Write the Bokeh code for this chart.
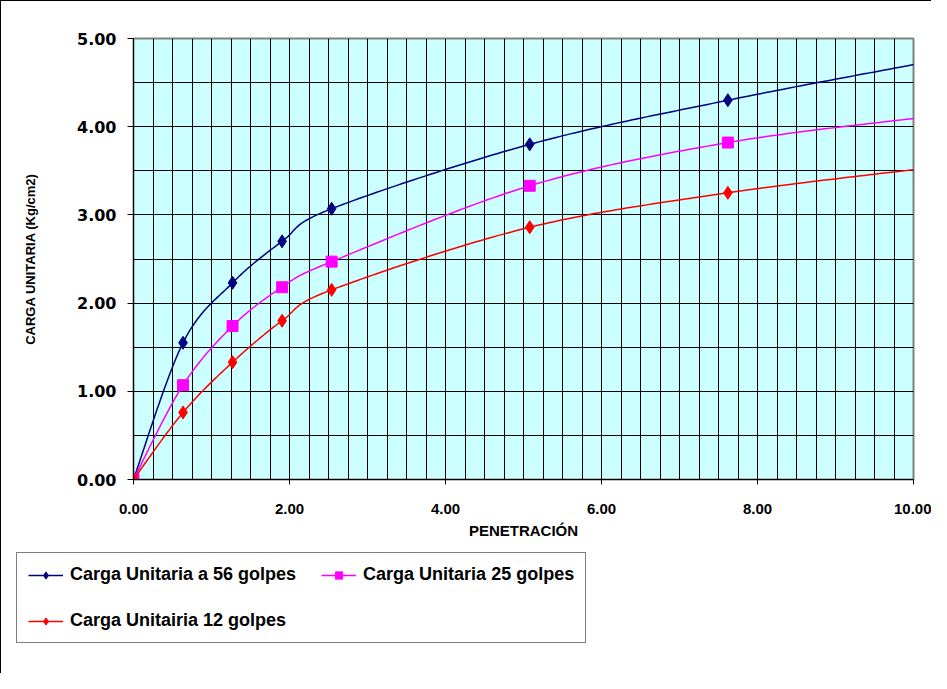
import numpy as np
from bokeh.plotting import figure
from bokeh.layouts import column
from bokeh.models import (Range1d, SingleIntervalTicker, NumeralTickFormatter,
                          Legend, LegendItem, ColumnDataSource)
from bokeh.embed import file_html
from bokeh.resources import INLINE

# ---- data ----
penetracion = [0.0, 0.635, 1.27, 1.905, 2.54, 5.08, 7.62, 10.16]
carga_56 = [0.0, 1.55, 2.23, 2.70, 3.07, 3.80, 4.30, 4.73]
carga_25 = [0.0, 1.07, 1.74, 2.18, 2.47, 3.33, 3.82, 4.11]
carga_12 = [0.0, 0.76, 1.33, 1.80, 2.15, 2.86, 3.25, 3.53]
series_labels = ["Carga Unitaria a 56 golpes", "Carga Unitaria 25 golpes", "Carga Unitairia 12 golpes"]
x_ticks_step = 2.0
y_ticks_step = 1.0


def smooth(xs, ys, n=40):
    """Excel-like smoothed line: Catmull-Rom style cubic Bezier segments through the points."""
    pts = np.column_stack([xs, ys]).astype(float)
    t = np.linspace(0, 1, n)[:, None]
    out = []
    for i in range(len(pts) - 1):
        p0 = pts[i - 1] if i > 0 else pts[i]
        p1 = pts[i]
        p2 = pts[i + 1]
        p3 = pts[i + 2] if i + 2 < len(pts) else pts[i + 1]
        c1 = p1 + (p2 - p0) / 6.0
        c2 = p2 - (p3 - p1) / 6.0
        seg = ((1 - t) ** 3) * p1 + 3 * ((1 - t) ** 2) * t * c1 + 3 * (1 - t) * (t ** 2) * c2 + (t ** 3) * p2
        out.append(seg if i == 0 else seg[1:])
    arr = np.vstack(out)
    return arr[:, 0], arr[:, 1]


W = 930
H1 = 544
H2 = 128

p = figure(width=W, height=H1, output_backend="svg", toolbar_location=None,
           x_range=Range1d(0, 10), y_range=Range1d(0, 5),
           min_border_left=132, min_border_right=18, min_border_top=37, min_border_bottom=66)
p.background_fill_color = "#CCFFFF"
p.border_fill_color = "white"
p.outline_line_color = "#808080"
p.outline_line_width = 2

# grids
p.xgrid.ticker = SingleIntervalTicker(interval=0.25, num_minor_ticks=0)
p.ygrid.ticker = SingleIntervalTicker(interval=0.5, num_minor_ticks=0)
for g in (p.xgrid, p.ygrid):
    g.grid_line_color = "black"
    g.grid_line_width = 1
    g.grid_line_alpha = 1.0

# axes
p.xaxis.ticker = SingleIntervalTicker(interval=x_ticks_step, num_minor_ticks=0)
p.yaxis.ticker = SingleIntervalTicker(interval=y_ticks_step, num_minor_ticks=0)
p.xaxis.formatter = NumeralTickFormatter(format="0.00")
p.yaxis.formatter = NumeralTickFormatter(format="0.00")
for ax in (p.xaxis, p.yaxis):
    ax.axis_line_color = "black"
    ax.axis_line_width = 1
    ax.major_tick_line_color = "black"
    ax.major_tick_in = 0
    ax.minor_tick_line_color = None
    ax.major_label_text_font_style = "bold"
    ax.major_label_text_color = "black"
    ax.axis_label_text_font_style = "bold"
    ax.axis_label_text_color = "black"
    ax.axis_label_text_font = "Liberation Sans"

p.xaxis.major_tick_out = 5
p.xaxis.major_label_standoff = 19
p.xaxis.major_label_text_font = "Liberation Sans"
p.xaxis.major_label_text_font_size = "15px"
p.xaxis.axis_label = "PENETRACIÓN"
p.xaxis.axis_label_text_font_size = "15px"
p.xaxis.axis_label_standoff = 5

p.yaxis.major_tick_out = 6
p.yaxis.major_label_standoff = 11
p.yaxis.major_label_text_font = "DejaVu Sans"
p.yaxis.major_label_text_font_size = "16px"
p.yaxis.axis_label = "CARGA UNITARIA (Kg/cm2)"
p.yaxis.axis_label_text_font_size = "13px"
p.yaxis.axis_label_standoff = 36

# legend strip below the chart; its ranges keep the key renderers' data out of view
q = figure(width=W, height=H2, output_backend="svg", toolbar_location=None,
           x_axis_type=None, y_axis_type=None, x_range=Range1d(-3, -2), y_range=Range1d(-3, -2),
           min_border=0)
q.outline_line_color = None
q.background_fill_alpha = 0
q.border_fill_alpha = 0
q.xgrid.visible = False
q.ygrid.visible = False
q.styles = {"transform": "translateX(-117px)"}

colors = ["#000080", "#FF00FF", "#FF0000"]
markers = ["diamond", "square", "diamond"]
sizes = [13, 11, 13]
items = []
for ys, col, mk, sz, lab in zip([carga_56, carga_25, carga_12], colors, markers, sizes, series_labels):
    sx, sy = smooth(penetracion, ys)
    p.line(sx, sy, line_color=col, line_width=1.5)
    src = ColumnDataSource(dict(x=penetracion[:-1], y=ys[:-1]))
    p.scatter("x", "y", source=src, marker=mk, size=sz, fill_color=col, line_color=col)
    # legend key glyphs with the same styling, in the legend strip
    kl = q.line(sx, sy, line_color=col, line_width=1.5)
    ks = q.scatter("x", "y", source=src, marker=mk, size=sz - 3, fill_color=col, line_color=col)
    items.append(LegendItem(label=lab, renderers=[kl, ks]))

legend = Legend(items=items, location=(0, 30), orientation="horizontal", ncols=2,
                border_line_color="black", border_line_width=1.3, background_fill_color="white",
                background_fill_alpha=1.0, padding=11, spacing=25, margin=0,
                label_text_font="Liberation Sans", label_text_font_style="bold",
                label_text_font_size="18px", label_text_color="black",
                label_height=18, glyph_height=18, glyph_width=35, label_standoff=7)
q.add_layout(legend)

layout = column(p, q, spacing=0)
layout.styles = {"border-top": "1px solid black", "border-left": "1px solid black"}

open("out.html", "w").write(file_html(layout, INLINE))
